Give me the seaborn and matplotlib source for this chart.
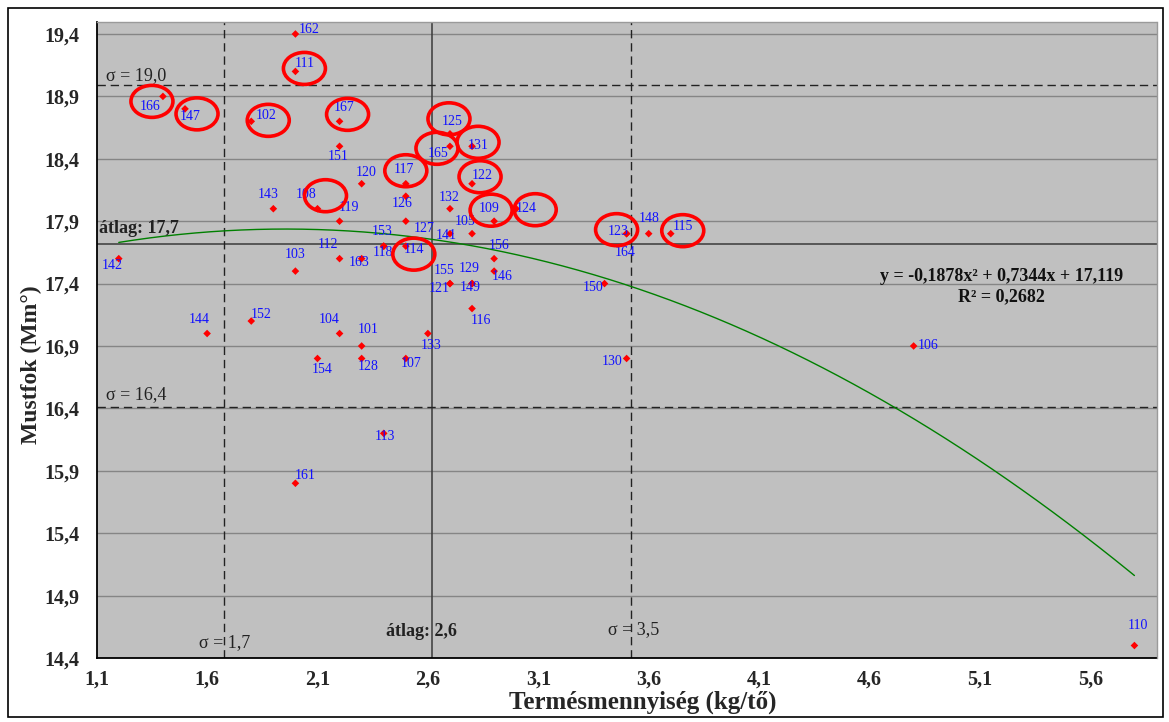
import numpy as np
import pandas as pd
import matplotlib
matplotlib.use("Agg")
import matplotlib.pyplot as plt
import matplotlib.transforms as mtransforms
from matplotlib.patches import Ellipse, Rectangle
import seaborn as sns

# Samples: identifier, yield per vine (kg/tő) and must sugar (Mm°)
sample_ids = [101, 102, 103, 104, 105, 106, 107, 108, 109, 110,
              111, 112, 113, 114, 115, 116, 117, 118, 119, 120,
              121, 122, 123, 124, 125, 126, 127, 128, 129, 130,
              131, 132, 133, 141, 142, 143, 144, 146, 147, 148,
              149, 150, 151, 152, 153, 154, 155, 156, 161, 162,
              163, 164, 165, 166, 167]
yield_kg = [2.3, 1.8, 2.0, 2.2, 2.8, 4.8, 2.5, 2.1, 2.9, 5.8,
            2.0, 2.2, 2.4, 2.5, 3.7, 2.8, 2.5, 2.4, 2.2, 2.3,
            2.7, 2.8, 3.5, 3.0, 2.7, 2.5, 2.5, 2.3, 2.8, 3.5,
            2.8, 2.7, 2.6, 2.7, 1.2, 1.9, 1.6, 2.9, 1.5, 3.6,
            2.8, 3.4, 2.2, 1.8, 2.4, 2.1, 2.7, 2.9, 2.0, 2.0,
            2.3, 3.5, 2.7, 1.4, 2.2]
must_deg = [16.9, 18.7, 17.5, 17.0, 17.8, 16.9, 16.8, 18.0, 17.9, 14.5,
            19.1, 17.6, 16.2, 17.7, 17.8, 17.2, 18.2, 17.7, 17.9, 18.2,
            17.4, 18.2, 17.8, 18.0, 18.6, 18.1, 17.9, 16.8, 17.4, 16.8,
            18.5, 18.0, 17.0, 17.8, 17.6, 18.0, 17.0, 17.5, 18.8, 17.8,
            17.4, 17.4, 18.5, 17.1, 17.7, 16.8, 17.4, 17.6, 15.8, 19.4,
            17.6, 17.8, 18.5, 18.9, 18.7]

# Highlighted samples
circled = [111, 166, 147, 102, 167, 108, 125, 165, 131, 117, 122, 109,
           124, 114, 123, 115]

# Means and +/- sigma reference lines
x_mean, x_sig_lo, x_sig_hi = 2.617, 1.675, 3.52
y_mean, y_sig_lo, y_sig_hi = 17.72, 16.41, 18.99

# Quadratic trend coefficients and fit quality
trend_a, trend_b, trend_c = -0.1878, 0.7344, 17.119
trend_r2 = 0.2682
trend_x_range = (1.2, 5.8)

x_ticks = [1.1, 1.6, 2.1, 2.6, 3.1, 3.6, 4.1, 4.6, 5.1, 5.6]
y_ticks = [14.4, 14.9, 15.4, 15.9, 16.4, 16.9, 17.4, 17.9, 18.4, 18.9, 19.4]
x_tick_labels = ["1,1", "1,6", "2,1", "2,6", "3,1", "3,6", "4,1", "4,6", "5,1", "5,6"]
y_tick_labels = ["14,4", "14,9", "15,4", "15,9", "16,4", "16,9", "17,4",
                 "17,9", "18,4", "18,9", "19,4"]

# Label placement (pixel offsets of the label centre from its point)
label_offsets = {
    101: (7, 16), 102: (15, 6), 103: (0, 17), 104: (-10, 14), 105: (-7, 12),
    106: (14, 0), 107: (5, -5), 108: (-11, 14), 109: (-5, 13), 110: (4, 20),
    111: (9, 8), 112: (-12, 14), 113: (1, -3), 114: (8, -3), 115: (12, 7),
    116: (9, -12), 117: (-2, 14), 118: (-1, -6), 119: (9, 14), 120: (5, 11),
    121: (-11, -5), 122: (10, 8), 123: (-8, 2), 124: (10, 0), 125: (2, 12),
    126: (-4, -7), 127: (18, -7), 128: (7, -8), 129: (-3, 15), 130: (-14, -3),
    131: (6, 1), 132: (-1, 11), 133: (3, -12), 141: (-4, -2), 142: (-7, -7),
    143: (-5, 14), 144: (-8, 14), 146: (8, -5), 147: (5, -8), 148: (0, 15),
    149: (-2, -4), 150: (-11, -4), 151: (-1, -10), 152: (10, 7), 153: (-2, 15),
    154: (5, -11), 155: (-6, 13), 156: (5, 13), 161: (10, 8), 162: (14, 4),
    163: (-3, -4), 164: (-1, -19), 165: (-12, -7), 166: (-13, -10), 167: (5, 14),
}
ring_offsets = {
    111: (9, 3), 166: (-11, -5), 147: (12, -5), 102: (17, 1), 167: (8, 7),
    108: (8, 13), 125: (-1, 15), 165: (-13, -2), 131: (6, 4), 117: (0, 13),
    122: (8, 7), 109: (-3, 11), 124: (19, -1), 114: (8, -8), 123: (-10, 4),
    115: (12, 3),
}

sns.set_style("white")
plt.rcParams["font.family"] = ["Liberation Serif", "DejaVu Serif"]

df = pd.DataFrame({"id": sample_ids, "yield": yield_kg, "must": must_deg})

W, H = 1169, 722
fig = plt.figure(figsize=(W / 100, H / 100), dpi=100)
ax_l, ax_r, ax_t, ax_b = 96.7, 1156.5, 21.5, 658
ax = fig.add_axes([ax_l / W, (H - ax_b) / H, (ax_r - ax_l) / W, (ax_b - ax_t) / H])
ax.set_facecolor("#C0C0C0")

# outer chart frame
fig.patches.append(Rectangle((8 / W, 5 / H), (1163 - 8) / W, (716 - 7) / H,
                             transform=fig.transFigure, fill=False,
                             ec="black", lw=1.2, zorder=0))

ax.set_xlim(1.1, 5.9)
ax.set_ylim(14.4, 19.5)
ax.set_axisbelow(True)
ax.yaxis.grid(True, color="#858585", lw=1.0)
ax.xaxis.grid(False)

# reference lines
dash = (0, (6, 3.5))
ax.axhline(y_mean, color="#3a3a3a", lw=1.1, zorder=2)
ax.axvline(x_mean, color="#3a3a3a", lw=1.1, zorder=2)
for yv in (y_sig_lo, y_sig_hi):
    ax.axhline(yv, color="#222222", lw=1.0, ls=dash, zorder=2)
for xv in (x_sig_lo, x_sig_hi):
    ax.axvline(xv, color="#222222", lw=1.0, ls=dash, zorder=2)

# quadratic trend
tx = np.linspace(trend_x_range[0], trend_x_range[1], 200)
ty = trend_a * tx ** 2 + trend_b * tx + trend_c
sns.lineplot(x=tx, y=ty, color="#008000", lw=1.0, ax=ax, zorder=3)

# sample points
sns.scatterplot(data=df, x="yield", y="must", marker="D", color="#FF0000",
                s=15, edgecolor="none", ax=ax, zorder=4, legend=False)

for sid, xv, yv in zip(sample_ids, yield_kg, must_deg):
    dx, dy = label_offsets[sid]
    ax.annotate(str(sid), (xv, yv), xytext=(dx, dy), textcoords="offset pixels",
                ha="center", va="center", fontsize=10, color="#1010FF", zorder=6)

for sid, (dx, dy) in ring_offsets.items():
    i = sample_ids.index(sid)
    tr = (mtransforms.Affine2D().translate(dx, dy)
          + mtransforms.ScaledTranslation(yield_kg[i], must_deg[i], ax.transData))
    ax.add_artist(Ellipse((0, 0), 42, 32, transform=tr, fill=False,
                          ec="#FF0000", lw=2.6, zorder=7, clip_on=False))

# reference line captions
blend_y = mtransforms.blended_transform_factory(ax.transAxes, ax.transData)
blend_x = mtransforms.blended_transform_factory(ax.transData, ax.transAxes)
cap = dict(textcoords="offset pixels", va="center", fontsize=13, color="#222222")
ax.annotate("σ = 19,0", (0, y_sig_hi), xycoords=blend_y, xytext=(9, 10),
            ha="left", **cap)
ax.annotate("σ = 16,4", (0, y_sig_lo), xycoords=blend_y, xytext=(9, 13),
            ha="left", **cap)
ax.annotate("átlag: 17,7", (0, y_mean), xycoords=blend_y, xytext=(2, 15),
            ha="left", fontweight="bold", **cap)
ax.annotate("σ = 1,7", (x_sig_lo, 0), xycoords=blend_x, xytext=(1, 15),
            ha="center", **cap)
ax.annotate("σ = 3,5", (x_sig_hi, 0), xycoords=blend_x, xytext=(3, 28),
            ha="center", **cap)
ax.annotate("átlag: 2,6", (x_mean, 0), xycoords=blend_x, xytext=(-10, 26),
            ha="center", fontweight="bold", **cap)

ax.text(5.196, 17.453, "y = -0,1878x² + 0,7344x + 17,119", ha="center",
        va="center", fontsize=13, fontweight="bold", color="#111111")
ax.text(5.196, 17.293, f"R² = {trend_r2:.4f}".replace(".", ","), ha="center",
        va="center", fontsize=13, fontweight="bold", color="#111111")

# axes styling
ax.set_xticks(x_ticks)
ax.set_xticklabels(x_tick_labels)
ax.set_yticks(y_ticks)
ax.set_yticklabels(y_tick_labels)
ax.tick_params(axis="both", direction="out", length=4.5, width=1.0,
               color="black", labelsize=14.5)
ax.tick_params(axis="x", pad=4)
ax.tick_params(axis="y", pad=8)
for lab in ax.get_xticklabels() + ax.get_yticklabels():
    lab.set_fontweight("bold")
for side in ("left", "bottom"):
    ax.spines[side].set_color("black")
    ax.spines[side].set_linewidth(1.3)
for side in ("top", "right"):
    ax.spines[side].set_color("#9a9a9a")
    ax.spines[side].set_linewidth(1.0)

ax.set_xlabel("Termésmennyiség (kg/tő)", fontsize=18, fontweight="bold")
ax.set_ylabel("Mustfok (Mm°)", fontsize=17, fontweight="bold")
ax.xaxis.set_label_coords((643 - ax_l) / (ax_r - ax_l), -(691 - ax_b) / (ax_b - ax_t))
ax.yaxis.set_label_coords(-(ax_l - 42) / (ax_r - ax_l), (ax_b - 365) / (ax_b - ax_t))

fig.savefig("out.png", dpi=100, facecolor="white")
